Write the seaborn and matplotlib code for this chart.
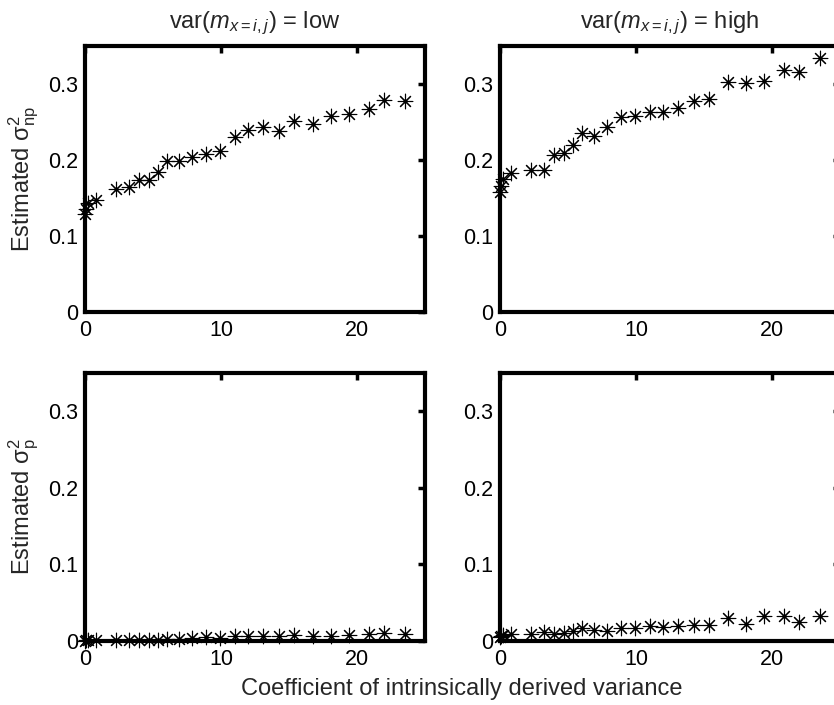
import numpy as np
import pandas as pd
import matplotlib
matplotlib.use("Agg")
import matplotlib.pyplot as plt
import seaborn as sns

# ---- data ----
x_coef = [0.0, 0.1, 0.2, 0.8, 2.3, 3.2, 4.0, 4.7, 5.4, 6.0, 6.9, 7.9, 8.9, 9.9,
          11.0, 12.0, 13.1, 14.3, 15.4, 16.8, 18.1, 19.4, 20.9, 22.0, 23.5]

np_low = [0.129, 0.135, 0.143, 0.148, 0.162, 0.164, 0.174, 0.174, 0.184, 0.199,
          0.199, 0.204, 0.208, 0.212, 0.230, 0.240, 0.244, 0.238, 0.251, 0.247,
          0.258, 0.261, 0.267, 0.279, 0.277]
np_high = [0.158, 0.166, 0.175, 0.183, 0.187, 0.187, 0.206, 0.209, 0.220, 0.236,
           0.232, 0.244, 0.257, 0.258, 0.263, 0.263, 0.268, 0.278, 0.280, 0.303,
           0.301, 0.304, 0.319, 0.316, 0.334]
p_low = [0.000, 0.001, 0.001, 0.001, 0.001, 0.001, 0.001, 0.001, 0.001, 0.002,
         0.002, 0.004, 0.005, 0.0035, 0.006, 0.006, 0.0065, 0.0065, 0.008, 0.007,
         0.0065, 0.0075, 0.009, 0.010, 0.009]
p_high = [0.005, 0.007, 0.008, 0.009, 0.009, 0.012, 0.009, 0.010, 0.013, 0.0165,
          0.015, 0.0135, 0.017, 0.0165, 0.0195, 0.018, 0.019, 0.021, 0.021, 0.030,
          0.022, 0.032, 0.032, 0.025, 0.033]

col_titles = [r"var($m_{x=i,j}$) = low", r"var($m_{x=i,j}$) = high"]
row_labels = [r"Estimated $\mathrm{σ}^2_{\mathrm{np}}$", r"Estimated $\mathrm{σ}^2_{\mathrm{p}}$"]
x_label = "Coefficient of intrinsically derived variance"
x_ticks = [0, 10, 20]
x_tick_labels = ["0", "10", "20"]
y_ticks = [0, 0.1, 0.2, 0.3]
y_tick_labels = ["0", "0.1", "0.2", "0.3"]

# ---- style ----
sns.set_style("white")
plt.rcParams["font.family"] = ["Liberation Sans", "DejaVu Sans"]
plt.rcParams["mathtext.fontset"] = "custom"
plt.rcParams["mathtext.rm"] = "Liberation Sans"
plt.rcParams["mathtext.it"] = "Liberation Sans:italic"
plt.rcParams["mathtext.sf"] = "Liberation Sans"
plt.rcParams["mathtext.bf"] = "Liberation Sans:bold"

fig = plt.figure(figsize=(8.34, 7.05), dpi=100)

W = 340 / 834
positions = {
    (0, 0): [85 / 834, 1 - 312 / 705, W, 266 / 705],
    (0, 1): [500 / 834, 1 - 312 / 705, W, 266 / 705],
    (1, 0): [85 / 834, 1 - 641 / 705, W, 268 / 705],
    (1, 1): [500 / 834, 1 - 641 / 705, W, 268 / 705],
}
series = {(0, 0): np_low, (0, 1): np_high, (1, 0): p_low, (1, 1): p_high}

star = (8, 2, 0)
for (r, c), pos in positions.items():
    ax = fig.add_axes(pos)
    df = pd.DataFrame({"x": x_coef, "y": series[(r, c)]})
    sns.scatterplot(data=df, x="x", y="y", ax=ax, marker=star, s=110,
                    color="black", linewidth=0.8, clip_on=False, zorder=3)
    sns.scatterplot(data=df, x="x", y="y", ax=ax, marker="o", s=7,
                    color="black", linewidth=0, clip_on=False, zorder=4)
    ax.set_xlim(0, 25)
    ax.set_ylim(0, 0.35)
    ax.set_xticks(x_ticks)
    ax.set_xticklabels(x_tick_labels)
    ax.set_yticks(y_ticks)
    ax.set_yticklabels(y_tick_labels)
    ax.tick_params(direction="in", length=5, width=2.5, labelsize=15.5,
                   top=True, right=True, colors="black")
    ax.tick_params(axis="x", pad=6)
    ax.tick_params(axis="y", pad=5)
    for sp in ax.spines.values():
        sp.set_linewidth(3)
        sp.set_color("black")
        sp.set_visible(True)
    ax.set_xlabel("")
    ax.set_ylabel("")
    if r == 0:
        ax.set_title(col_titles[c], fontsize=17, pad=13)
    if c == 0:
        ax.set_ylabel(row_labels[r], fontsize=17, labelpad=5)

fig.text(462 / 834, 1 - 689 / 705, x_label, ha="center", va="center", fontsize=17)

fig.savefig("out.png", dpi=100)
